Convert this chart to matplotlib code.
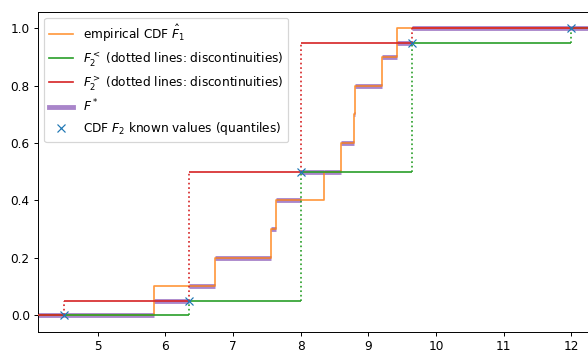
import numpy as np
import matplotlib
matplotlib.use("Agg")
import matplotlib.pyplot as plt

# Sample behind the empirical CDF F1
sample_f1 = [5.83, 6.73, 7.56, 7.64, 8.35, 8.60, 8.79, 8.81, 9.20, 9.43]
# Known quantiles of F2
quantile_x = [4.5, 6.35, 8.0, 9.65, 12.0]
quantile_p = [0.0, 0.05, 0.5, 0.95, 1.0]

x_lo, x_hi = 4.125, 12.375
y_lo, y_hi = -0.058, 1.058

xs_f1 = np.sort(np.asarray(sample_f1))
qx = np.asarray(quantile_x)
qp = np.asarray(quantile_p)
n = len(qx)


def ecdf(x):
    return np.searchsorted(xs_f1, x, side="right") / len(xs_f1)


def f2_lower(x):
    idx = np.searchsorted(qx, x, side="right") - 1
    return qp[np.clip(idx, 0, n - 1)]


def f2_upper(x):
    idx = np.searchsorted(qx, x, side="right")
    return qp[np.clip(idx, 0, n - 1)]


DPI = 87
fig = plt.figure(figsize=(588 / DPI, 351 / DPI), dpi=DPI)
ax = fig.add_axes([38.3 / 588, 19.3 / 351, 558.5 / 588, 320.0 / 351])

LW = 1.4

# empirical CDF as a post-step curve
step_x = np.concatenate([[x_lo], xs_f1, [x_hi]])
step_y = ecdf(step_x)
ax.step(step_x, step_y, where="post", color="tab:orange", lw=LW, alpha=0.8,
        zorder=3, label=r"empirical CDF $\hat{F}_1$")

# lower bound F2<: flat pieces, dotted jumps at the quantiles
lo_edges = np.concatenate([[x_lo], qx[1:], [x_hi]])
ax.hlines(qp, lo_edges[:-1], lo_edges[1:], color="tab:green", lw=LW, zorder=3)
for i in range(1, n):
    ax.vlines(qx[i], qp[i - 1], qp[i], color="tab:green", lw=LW,
              linestyles=":", zorder=3)
ax.plot([], [], color="tab:green", lw=LW,
        label=r"$F_2^<$ (dotted lines: discontinuities)")

# upper bound F2>: flat pieces, dotted jumps at the quantiles
up_edges = np.concatenate([[x_lo], qx[:-1], [x_hi]])
ax.hlines(qp, up_edges[:-1], up_edges[1:], color="tab:red", lw=LW, zorder=3)
for i in range(n - 1):
    ax.vlines(qx[i], qp[i], qp[i + 1], color="tab:red", lw=LW,
              linestyles=":", zorder=3)
ax.plot([], [], color="tab:red", lw=LW,
        label=r"$F_2^>$ (dotted lines: discontinuities)")

# F* = F1 clipped between the two bounds, drawn piecewise
bps = np.unique(np.concatenate([[x_lo, x_hi], xs_f1, qx]))
mids = 0.5 * (bps[:-1] + bps[1:])
f_star = np.clip(ecdf(mids), f2_lower(mids), f2_upper(mids))
ax.hlines(f_star, bps[:-1], bps[1:], color="tab:purple", lw=4, alpha=0.8,
          zorder=2)
ax.plot([], [], color="tab:purple", lw=4, alpha=0.8, label=r"$F^*$")

ax.plot(qx, qp, "x", color="tab:blue", linestyle="none", zorder=4,
        label=r"CDF $F_2$ known values (quantiles)")

ax.set_xlim(x_lo, x_hi)
ax.set_ylim(y_lo, y_hi)
ax.legend(loc="upper left")

fig.savefig("out.png", dpi=DPI)
